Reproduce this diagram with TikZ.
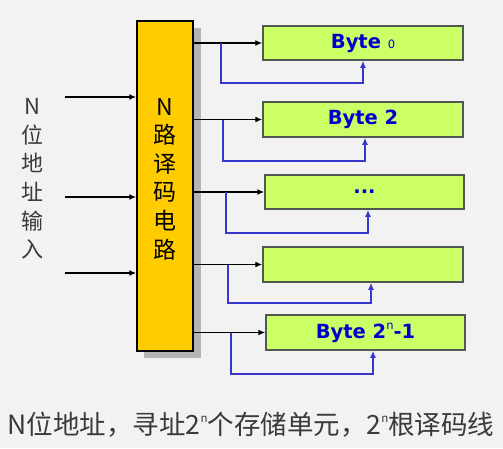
\documentclass[tikz,border=0pt]{standalone}
\usepackage{fontspec}
\setmainfont{DejaVu Sans}
\newfontfamily\cjk{Noto Sans CJK SC}
\usetikzlibrary{arrows.meta}
\definecolor{bg}{HTML}{F2F2F2}
\definecolor{decfill}{HTML}{FFCC00}
\definecolor{boxfill}{HTML}{CCFF66}
\definecolor{boxline}{HTML}{505A50}
\definecolor{bytetext}{HTML}{0000CC}
\definecolor{bluewire}{RGB}{55,55,205}
\definecolor{graytext}{HTML}{3A3A3A}
\definecolor{shadowgray}{HTML}{B4B4B4}
\tikzset{
  membox/.style={draw=boxline, line width=1.5pt, fill=boxfill, minimum width=200pt, minimum height=34pt, inner sep=0pt,
    text=bytetext, font=\fontsize{19.5}{19.5}\selectfont\bfseries},
  blackarrow/.style={line width=1.3pt, -{Latex[length=7pt,width=6pt]}},
  bluearrow/.style={line width=1.3pt, draw=bluewire, -{Latex[length=7pt,width=6pt]}},
}
\newcommand{\smallsup}[1]{\raisebox{0.45em}{\fontsize{11.5}{11.5}\selectfont\mdseries #1}}
\begin{document}
\begin{tikzpicture}[x=1pt,y=-1pt]
\fill[bg] (0,0) rectangle (503,448);
\useasboundingbox (0,0) rectangle (503,448);
% decoder shadow and box
\fill[shadowgray] (144,28) rectangle (201,358);
\node[draw=black, line width=1.5pt, fill=decfill, minimum width=56pt, minimum height=330pt, inner sep=0pt] (dec) at (165,186) {};
\node[font=\cjk\fontsize{23}{28.6}\selectfont, align=center, inner sep=0pt] (dectext) at (165,179) {N\\路\\译\\码\\电\\路};
% left label
\node[font=\cjk\fontsize{22}{28.6}\selectfont, align=center, inner sep=0pt, text=graytext] (inlabel) at (32,179) {N\\位\\地\\址\\输\\入};
% input arrows
\coordinate (i1) at (65,97);
\coordinate (i2) at (65,197);
\coordinate (i3) at (65,273);
\foreach \i in {1,2,3} {\draw[blackarrow] (i\i) -- (dec.west |- i\i);}
% memory boxes
\node[membox] (b1) at (363,43) {Byte {\fontsize{11.5}{11.5}\selectfont\mdseries 0}};
\node[membox, minimum height=35pt] (b2) at (363,119.5) {Byte 2};
\node[membox, minimum width=199pt] (b3) at (364.5,192) {...};
\node[membox, minimum height=35pt] (b4) at (363,264.5) {};
\node[membox, minimum width=199pt, minimum height=35pt] (b5) at (365.5,332.5) {Byte 2\smallsup{n}-1};
% black outputs
\foreach \b in {1,...,5} {\draw[blackarrow] (dec.east |- b\b.west) -- (b\b.west);}
% blue feedback wires
\coordinate (s1) at (221,43);
\coordinate (s2) at (223,119.5);
\coordinate (s3) at (226,192);
\coordinate (s4) at (228,264.5);
\coordinate (s5) at (231,332.5);
\draw[bluearrow] (s1) -- (221,83) -| (b1.south);
\draw[bluearrow] (s2) -- (223,161) -| ([xshift=2pt]b2.south);
\draw[bluearrow] (s3) -- (226,233) -| ([xshift=3.5pt]b3.south);
\draw[bluearrow] (s4) -- (228,303) -| ([xshift=8pt]b4.south);
\draw[bluearrow] (s5) -- (231,374) -| ([xshift=7.5pt]b5.south);
% caption
\node[font=\cjk\fontsize{26.5}{26.5}\selectfont, text=graytext, inner sep=0pt] (caption) at (251,425) {N位地址，寻址2\smallsup{n}个存储单元，2\smallsup{n}根译码线};
\end{tikzpicture}
\end{document}
